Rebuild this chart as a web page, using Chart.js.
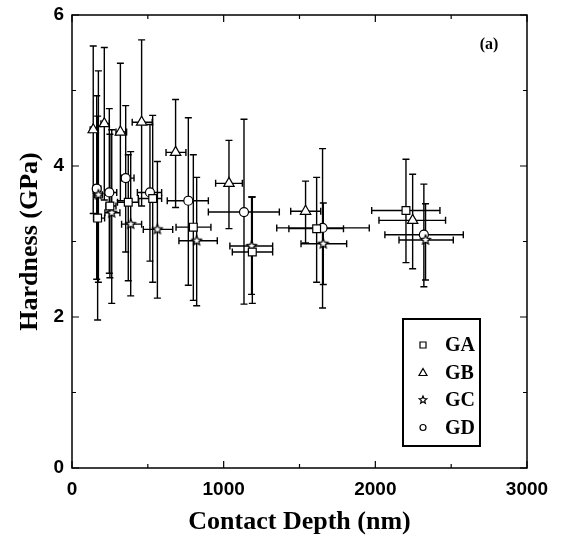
<!DOCTYPE html>
<html>
<head>
<meta charset="utf-8">
<script src="https://cdn.jsdelivr.net/npm/chart.js@4.4.1/dist/chart.umd.min.js"></script>
<style>
  html, body { margin: 0; padding: 0; background: #fff; }
</style>
</head>
<body>
<canvas id="chart" width="572" height="545"></canvas>
<script>
// GA (squares)
const gaX    = [169, 250, 371, 532, 800, 1189, 1613, 2202];
const gaY    = [3.31, 3.47, 3.52, 3.57, 3.19, 2.86, 3.17, 3.41];
const gaYLo  = [1.96, 2.52, 2.48, 2.46, 2.22, 2.18, 2.46, 2.72];
const gaYHi  = [4.66, 4.42, 4.15, 4.67, 4.15, 3.59, 3.85, 4.09];
const gaXLo  = [142, 224, 300, 437, 686, 1057, 1430, 1976];
const gaXHi  = [215, 290, 440, 591, 916, 1323, 1790, 2426];

// GB (triangles)
const gbX    = [140, 213, 319, 459, 683, 1035, 1540, 2246];
const gbY    = [4.48, 4.56, 4.45, 4.58, 4.18, 3.77, 3.40, 3.28];
const gbYLo  = [3.37, 3.55, 3.54, 3.47, 3.45, 3.17, 2.98, 2.64];
const gbYHi  = [5.59, 5.57, 5.36, 5.67, 4.88, 4.34, 3.80, 3.89];
const gbXLo  = [120, 191, 290, 397, 620, 947, 1442, 2024];
const gbXHi  = [162, 246, 360, 529, 751, 1123, 1640, 2463];

// GC (stars)
const gcX    = [174, 262, 387, 563, 822, 1184, 1657, 2331];
const gcY    = [3.62, 3.38, 3.23, 3.16, 3.01, 2.94, 2.97, 3.02];
const gcYLo  = [2.46, 2.18, 2.28, 2.25, 2.15, 2.30, 2.43, 2.49];
const gcYHi  = [5.26, 4.48, 4.19, 4.06, 3.85, 3.59, 3.51, 3.50];
const gcXLo  = [150, 217, 327, 470, 705, 1041, 1510, 2156];
const gcXHi  = [200, 316, 459, 664, 958, 1323, 1811, 2514];

// GD (circles)
const gdX    = [163, 246, 354, 514, 767, 1134, 1652, 2320];
const gdY    = [3.70, 3.65, 3.84, 3.65, 3.54, 3.39, 3.18, 3.09];
const gdYLo  = [2.50, 2.58, 2.86, 2.74, 2.42, 2.17, 2.12, 2.40];
const gdYHi  = [4.93, 4.76, 4.80, 4.55, 4.64, 4.62, 4.23, 3.76];
const gdXLo  = [140, 224, 327, 431, 628, 899, 1350, 2063];
const gdXHi  = [190, 295, 409, 591, 899, 1367, 1960, 2580];

const xTicks = [0, 1000, 2000, 3000];
const yTicks = [0, 2, 4, 6];

// little 5-point star for GC
const makeStar = (r) => {
  const c = document.createElement('canvas');
  c.width = c.height = 2 * r + 4;
  const g = c.getContext('2d');
  const cx = r + 2, cy = r + 2;
  g.beginPath();
  for (let i = 0; i < 10; i++) {
    const rad = i % 2 === 0 ? r : r * 0.45;
    const a = -Math.PI / 2 + i * Math.PI / 5;
    const px = cx + rad * Math.cos(a), py = cy + rad * Math.sin(a);
    if (i === 0) g.moveTo(px, py); else g.lineTo(px, py);
  }
  g.closePath();
  g.fillStyle = '#fff';
  g.fill();
  g.lineWidth = 1.2;
  g.strokeStyle = '#000';
  g.stroke();
  return c;
};
const starImg = makeStar(5);
const starSmall = makeStar(4);

const mkSet = (label, xs, ys, yLo, yHi, xLo, xHi, style, radius) => ({
  label,
  data: xs.map((x, i) => ({ x, y: ys[i] })),
  errY: yLo.map((lo, i) => [lo, yHi[i]]),
  errX: xLo.map((lo, i) => [lo, xHi[i]]),
  pointStyle: style,
  pointRadius: radius,
  pointHoverRadius: radius,
  pointBackgroundColor: '#fff',
  pointBorderColor: '#000',
  pointBorderWidth: 1.2,
  showLine: false
});

// error bars, frame, inward ticks, legend, panel label
const decor = {
  id: 'decor',
  beforeDatasetsDraw(chart) {
    const { ctx, scales: { x, y } } = chart;
    ctx.save();
    ctx.strokeStyle = '#000';
    ctx.lineWidth = 1.4;
    const cap = 3.5;
    chart.data.datasets.forEach(ds => {
      ds.data.forEach((p, i) => {
        const px = x.getPixelForValue(p.x), py = y.getPixelForValue(p.y);
        const [ylo, yhi] = ds.errY[i];
        const [xlo, xhi] = ds.errX[i];
        const y1 = y.getPixelForValue(ylo), y2 = y.getPixelForValue(yhi);
        const x1 = x.getPixelForValue(xlo), x2 = x.getPixelForValue(xhi);
        ctx.beginPath();
        ctx.moveTo(px, y1); ctx.lineTo(px, y2);
        ctx.moveTo(px - cap, y1); ctx.lineTo(px + cap, y1);
        ctx.moveTo(px - cap, y2); ctx.lineTo(px + cap, y2);
        ctx.moveTo(x1, py); ctx.lineTo(x2, py);
        ctx.moveTo(x1, py - cap); ctx.lineTo(x1, py + cap);
        ctx.moveTo(x2, py - cap); ctx.lineTo(x2, py + cap);
        ctx.stroke();
      });
    });
    ctx.restore();
  },
  afterDraw(chart) {
    const { ctx, chartArea: a, scales: { x, y } } = chart;
    ctx.save();
    ctx.strokeStyle = '#000';
    ctx.lineWidth = 1.5;
    ctx.strokeRect(a.left, a.top, a.right - a.left, a.bottom - a.top);

    // inward ticks on all four sides
    ctx.lineWidth = 1.2;
    ctx.beginPath();
    for (let v = 0; v <= 3000; v += 500) {
      const px = x.getPixelForValue(v);
      const len = v % 1000 === 0 ? 7 : 4;
      ctx.moveTo(px, a.bottom); ctx.lineTo(px, a.bottom - len);
      ctx.moveTo(px, a.top); ctx.lineTo(px, a.top + len);
    }
    for (let v = 0; v <= 6; v += 1) {
      const py = y.getPixelForValue(v);
      const len = v % 2 === 0 ? 7 : 4;
      ctx.moveTo(a.left, py); ctx.lineTo(a.left + len, py);
      ctx.moveTo(a.right, py); ctx.lineTo(a.right - len, py);
    }
    ctx.stroke();

    // panel label
    ctx.fillStyle = '#000';
    ctx.font = 'bold 16px "Liberation Serif", serif';
    ctx.textAlign = 'center';
    ctx.textBaseline = 'middle';
    ctx.fillText('(a)', a.right - 38, a.top + 30);

    // legend box
    const bx = a.left + 331, by = a.top + 304, bw = 77, bh = 127;
    ctx.lineWidth = 2;
    ctx.strokeRect(bx, by, bw, bh);
    ctx.font = 'bold 20px "Liberation Serif", serif';
    ctx.textAlign = 'left';
    chart.data.datasets.forEach((ds, i) => {
      const my = by + 26 + i * 27.5;
      const mx = bx + 20;
      ctx.lineWidth = 1.2;
      ctx.fillStyle = '#fff';
      ctx.beginPath();
      if (ds.pointStyle === 'rect') {
        ctx.rect(mx - 3, my - 3, 6, 6);
      } else if (ds.pointStyle === 'triangle') {
        ctx.moveTo(mx, my - 4); ctx.lineTo(mx + 4, my + 3); ctx.lineTo(mx - 4, my + 3); ctx.closePath();
      } else if (ds.pointStyle === 'circle') {
        ctx.arc(mx, my, 3, 0, Math.PI * 2);
      }
      if (ds.pointStyle instanceof HTMLCanvasElement) {
        ctx.drawImage(starSmall, mx - starSmall.width / 2, my - starSmall.height / 2);
      } else {
        ctx.fill(); ctx.stroke();
      }
      ctx.fillStyle = '#000';
      ctx.fillText(ds.label, bx + 42, my + 1);
    });
    ctx.restore();
  }
};

new Chart(document.getElementById('chart'), {
  type: 'scatter',
  data: {
    datasets: [
      mkSet('GA', gaX, gaY, gaYLo, gaYHi, gaXLo, gaXHi, 'rect', 5.5),
      mkSet('GB', gbX, gbY, gbYLo, gbYHi, gbXLo, gbXHi, 'triangle', 6),
      mkSet('GC', gcX, gcY, gcYLo, gcYHi, gcXLo, gcXHi, starImg, 5),
      mkSet('GD', gdX, gdY, gdYLo, gdYHi, gdXLo, gdXHi, 'circle', 4.5)
    ]
  },
  options: {
    responsive: false,
    animation: false,
    layout: { padding: { top: 15, right: 45, left: 0, bottom: 0 } },
    plugins: { legend: { display: false }, tooltip: { enabled: false } },
    scales: {
      x: {
        type: 'linear',
        min: 0, max: 3000,
        afterFit: s => { s.height = 77; s.paddingLeft = 0; s.paddingRight = 0; },
        afterBuildTicks: s => { s.ticks = xTicks.map(v => ({ value: v })); },
        grid: { display: false, drawTicks: false },
        border: { display: false },
        ticks: {
          padding: 10,
          color: '#000',
          callback: v => String(v),
          font: { family: '"Liberation Sans", Arial, sans-serif', weight: 'bold', size: 19 }
        },
        title: {
          display: true,
          text: 'Contact Depth (nm)',
          color: '#000',
          padding: { top: 0, bottom: 10 },
          font: { family: '"Liberation Serif", "Times New Roman", serif', weight: 'bold', size: 26, lineHeight: 1 }
        }
      },
      y: {
        type: 'linear',
        min: 0, max: 6,
        afterFit: s => { s.width = 72; s.paddingTop = 0; s.paddingBottom = 0; },
        afterBuildTicks: s => { s.ticks = yTicks.map(v => ({ value: v })); },
        grid: { display: false, drawTicks: false },
        border: { display: false },
        ticks: {
          padding: 8,
          color: '#000',
          callback: v => String(v),
          font: { family: '"Liberation Sans", Arial, sans-serif', weight: 'bold', size: 19 }
        },
        title: {
          display: true,
          text: 'Hardness (GPa)',
          color: '#000',
          padding: { top: 17, bottom: 0 },
          font: { family: '"Liberation Serif", "Times New Roman", serif', weight: 'bold', size: 26, lineHeight: 1 }
        }
      }
    }
  },
  plugins: [decor]
});
</script>
</body>
</html>
